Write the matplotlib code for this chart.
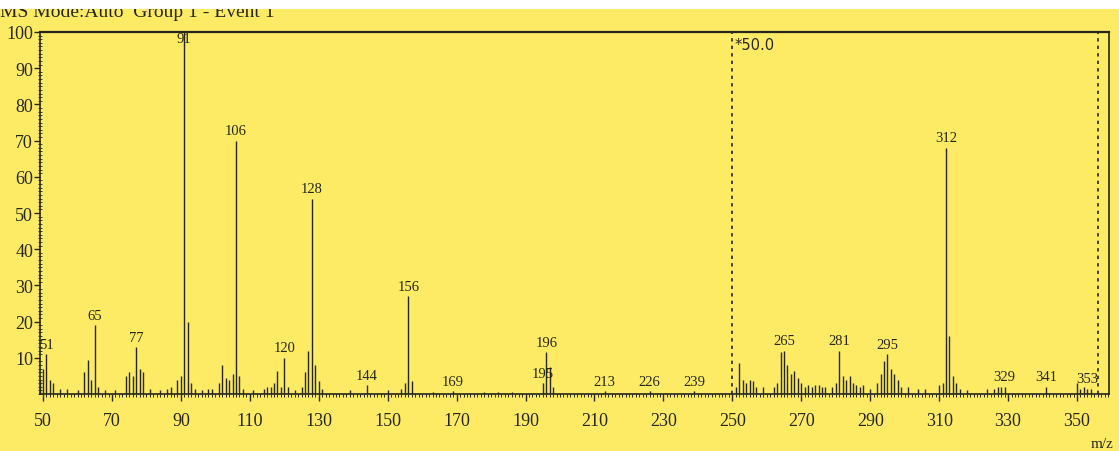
import matplotlib
matplotlib.use("Agg")
import matplotlib.pyplot as plt
from matplotlib.ticker import MultipleLocator, FixedLocator
from matplotlib.patches import Rectangle

# m/z values and relative intensity (as drawn; region above 250 is shown x50)
mz = [48, 49, 50, 51, 52, 53, 55, 57, 60, 62, 63, 64, 65, 66, 68, 71,
      74, 75, 76, 77, 78, 79, 81, 84, 86, 87, 89, 90, 91, 92, 93, 94,
      96, 98, 99, 101, 102, 103, 104, 105, 106, 107, 108, 111, 114, 115,
      116, 117, 118, 119, 120, 121, 123, 125, 126, 127, 128, 129, 130, 131,
      139, 144, 150, 154, 155, 156, 157, 163, 169, 178, 182, 186, 195, 196,
      197, 198, 213, 226, 239,
      251, 252, 253, 254, 255, 256, 257, 259, 262, 263, 264, 265, 266, 267,
      268, 269, 270, 271, 272, 273, 274, 275, 276, 277, 279, 280, 281, 282,
      283, 284, 285, 286, 287, 288, 290, 292, 293, 294, 295, 296, 297, 298,
      299, 301, 304, 306, 310, 311, 312, 313, 314, 315, 316, 318, 324, 326,
      327, 328, 329, 341, 350, 351, 352, 353, 354]
intensity = [3, 4, 7, 11, 4, 3, 1.5, 1.5, 1, 6, 9.5, 4, 19, 2, 1, 1,
             5, 6, 5, 13, 7, 6, 1.5, 1, 1.5, 2, 4, 5, 100, 20, 3, 1.5,
             1, 1.5, 1.5, 3, 8, 4.5, 4, 5.5, 70, 5, 1.5, 1, 1.5, 2,
             2, 3, 6.5, 2, 10, 2, 1, 2, 6, 12, 54, 8, 3.5, 1.5,
             1, 2.5, 1, 1.5, 3, 27, 3.5, 0.7, 0.8, 0.6, 0.6, 0.7, 3, 11.5,
             7.5, 2, 0.8, 0.8, 0.8,
             2, 8.5, 4, 3, 4, 3.5, 2, 2, 2, 3, 11.5, 12, 8, 5.5,
             6.5, 4.5, 3, 2, 2.5, 2, 2.5, 2.5, 2, 2, 2, 3, 12, 5,
             4, 5, 3, 2.5, 2, 2.5, 1.5, 3, 5.5, 9, 11, 7, 5.5, 4,
             2, 2, 1.5, 1.5, 2.5, 3, 68, 16, 5, 3, 1.5, 1, 1.5, 1.5,
             2, 2, 2, 2, 3, 1.5, 2, 1.5, 1.5]

labelled = [51, 65, 77, 91, 106, 120, 128, 144, 156, 169, 195, 196, 213,
            226, 239, 265, 281, 295, 312, 329, 341, 353]

x_ticks = list(range(50, 351, 20))
y_ticks = list(range(10, 101, 10))
zoom_start, zoom_end, zoom_text = 250, 356, "*50.0"

bg = "#fdeb66"
ink = "#26261c"

fig = plt.figure(figsize=(11.19, 4.52), dpi=100, facecolor=bg)
ax = fig.add_axes([0.0357, 0.126, 0.9554, 0.801])
ax.set_facecolor(bg)

ax.vlines(mz, 0, intensity, color=ink, linewidth=1.0)

for m in labelled:
    h = intensity[mz.index(m)]
    ax.annotate(str(m), (m, min(h, 95.5)), xytext=(0, 2.5),
                textcoords="offset points", ha="center", va="bottom",
                fontsize=10.5, family="Liberation Serif", color=ink)

ax.vlines([zoom_start, zoom_end], 0, 100, color=ink, linewidth=1.2,
          linestyles=(0, (2, 2.5)))
ax.text(zoom_start + 0.6, 98.5, zoom_text, ha="left", va="top",
        fontsize=10.5, family="DejaVu Sans", color=ink)

ax.set_xlim(49.1, 359.3)
ax.set_ylim(0, 100)
ax.xaxis.set_major_locator(FixedLocator(x_ticks))
ax.xaxis.set_minor_locator(MultipleLocator(1))
ax.yaxis.set_major_locator(FixedLocator(y_ticks))
ax.yaxis.set_minor_locator(MultipleLocator(1))
ax.set_xticklabels([str(t) for t in x_ticks], family="Liberation Serif",
                   fontsize=13, color=ink)
ax.set_yticklabels([str(t) for t in y_ticks], family="Liberation Serif",
                   fontsize=13, color=ink)
ax.tick_params(axis="x", which="major", direction="out", length=5, width=1,
               pad=8, color=ink)
ax.tick_params(axis="x", which="minor", direction="out", length=2.5,
               width=0.7, color=ink)
ax.tick_params(axis="y", which="major", direction="out", length=4, width=1,
               pad=1, color=ink)
ax.tick_params(axis="y", which="minor", direction="inout", length=3,
               width=0.6, color=ink)
for s in ax.spines.values():
    s.set_color(ink)
    s.set_linewidth(1.2)
ax.spines["top"].set_linewidth(1.6)

# header line of the scanned sheet, cut off by the page edge
fig.text(0.0, 0.972, "MS Mode:Auto  Group 1 - Event 1", ha="left",
         va="center", fontsize=14, family="Liberation Serif", color=ink)
fig.patches.append(Rectangle((0, 0.978), 1, 0.03, transform=fig.transFigure,
                             facecolor="white", edgecolor="none", zorder=10))
fig.text(0.985, 0.032, "m/z", ha="center", va="top", fontsize=11,
         family="Liberation Serif", color=ink)

fig.savefig("out.png", dpi=100, facecolor=bg)
